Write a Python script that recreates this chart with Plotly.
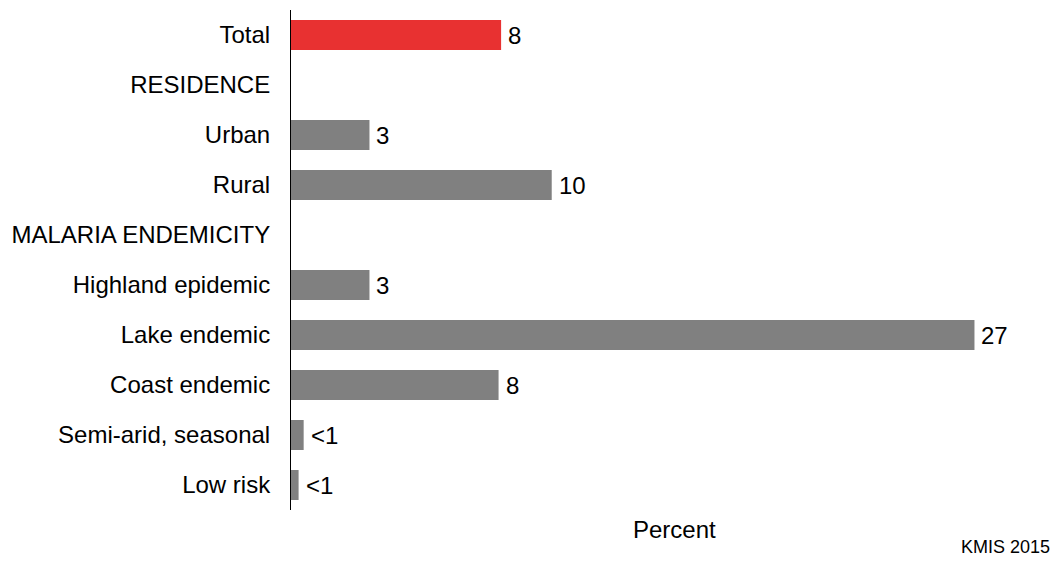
import plotly.graph_objects as go

categories = ["Total", "RESIDENCE", "Urban", "Rural", "MALARIA ENDEMICITY",
              "Highland epidemic", "Lake endemic", "Coast endemic",
              "Semi-arid, seasonal", "Low risk"]
values = [8.3, None, 3.1, 10.3, None, 3.1, 27.0, 8.2, 0.5, 0.3]
value_labels = ["8", "", "3", "10", "", "3", "27", "8", "<1", "<1"]
colors = ["#e83131", "#808080", "#808080", "#808080", "#808080",
          "#808080", "#808080", "#808080", "#808080", "#808080"]

FONT = "Liberation Sans, Arial, sans-serif"

fig = go.Figure()
fig.add_trace(go.Bar(
    x=values, y=categories, orientation="h",
    marker=dict(color=colors, line=dict(width=0)),
    width=0.6, hoverinfo="skip",
))

for c, v, lab in zip(categories, values, value_labels):
    if v is None or not lab:
        continue
    fig.add_annotation(x=v, y=c, xref="x", yref="y", text=lab,
                       showarrow=False, xanchor="left", yanchor="middle",
                       xshift=5, font=dict(family=FONT, size=24, color="#000000"))

fig.add_annotation(x=0.5, y=-0.038, xref="paper", yref="paper", text="Percent",
                   showarrow=False, xanchor="center", yanchor="middle",
                   font=dict(family=FONT, size=24, color="#000000"))
fig.add_annotation(x=0.992, y=-0.074, xref="paper", yref="paper", text="KMIS 2015",
                   showarrow=False, xanchor="right", yanchor="middle",
                   font=dict(family=FONT, size=18, color="#000000"))

fig.update_layout(
    width=1058, height=567,
    margin=dict(l=291, r=0, t=10, b=57),
    paper_bgcolor="white", plot_bgcolor="white",
    showlegend=False,
    font=dict(family=FONT, size=24, color="#000000"),
    xaxis=dict(range=[0, 30.3], showgrid=False, zeroline=False,
               showticklabels=False, showline=False, ticks="", fixedrange=True),
    yaxis=dict(categoryorder="array", categoryarray=categories,
               autorange="reversed", showgrid=False, zeroline=False,
               showline=True, linecolor="#000000", linewidth=1,
               ticks="", ticklabelstandoff=15,
               tickfont=dict(family=FONT, size=24, color="#000000")),
)

fig.write_html("out.html", config={"displayModeBar": False},
               post_script="document.body.style.margin='0';document.body.style.overflow='hidden';")
